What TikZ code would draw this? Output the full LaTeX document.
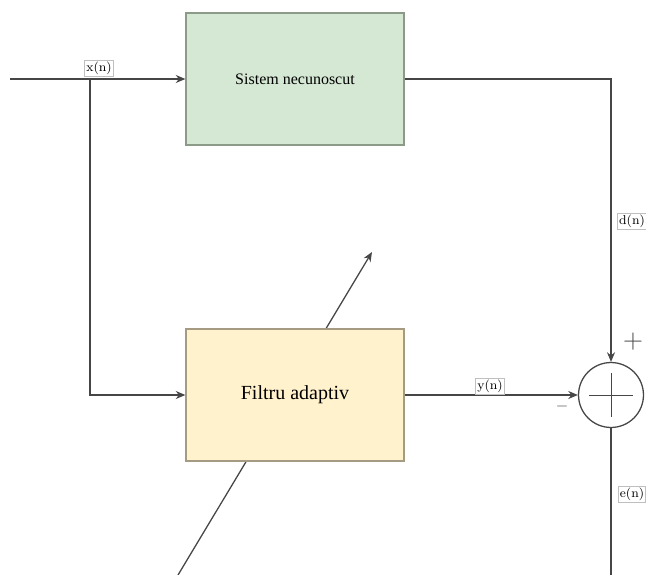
\documentclass[tikz,border=0pt]{standalone}
\usepackage{fontspec}
\newfontfamily\boxfont{Liberation Serif}
\usepackage{xcolor}
\definecolor{blkgreen}{RGB}{213,232,212}
\definecolor{blkyellow}{RGB}{255,242,204}
\definecolor{edgegreen}{RGB}{140,155,135}
\definecolor{edgeyellow}{RGB}{165,155,130}
\definecolor{wiregray}{RGB}{70,70,70}
\usetikzlibrary{arrows.meta, positioning, calc}

\begin{document}
\begin{tikzpicture}[x=0.625pt, y=-0.625pt,
    wire/.style={wiregray, line width=0.8pt},
    arr/.style={wire, -{Stealth[length=6pt, width=5pt]}},
    block/.style={draw, line width=0.8pt, minimum width=136.25pt,
                  minimum height=82.5pt, inner sep=0pt},
    lbl/.style={draw=black!25, fill=white, font=\fontsize{8}{9}\selectfont, inner sep=1pt}]
  \useasboundingbox (0,0) rectangle (646,575);

  % Adaptation arrow (runs behind the filter)
  \coordinate (adjS) at (178,575);
  \coordinate (adjE) at (372,252);
  \draw[arr] (adjS) -- (adjE);

  % Blocks
  \node[block, draw=edgegreen, fill=blkgreen,
        font=\boxfont\fontsize{10}{12}\selectfont] (sys) at (295,79) {Sistem necunoscut};
  \node[block, draw=edgeyellow, fill=blkyellow,
        font=\boxfont\fontsize{12.5}{15}\selectfont] (filt) at (295,395) {Filtru adaptiv};

  % Summing junction
  \node[circle, draw=wiregray, line width=0.8pt, minimum size=40.6pt, inner sep=0pt]
        (sum) at (611,395) {};
  \draw[wiregray, line width=0.5pt] ($(sum.center)+(-22,0)$) -- ($(sum.center)+(22,0)$);
  \draw[wiregray, line width=0.5pt] ($(sum.center)+(0,-22)$) -- ($(sum.center)+(0,22)$);
  \node[wiregray, font=\fontsize{18}{18}\selectfont, inner sep=0pt] (plus) at (633,342) {$+$};
  \node[wiregray, font=\fontsize{10}{10}\selectfont, inner sep=0pt] (minus) at (562,406) {$-$};

  % Signal paths
  \coordinate (in) at (10,79);
  \coordinate (split) at (90,79);
  \coordinate (out) at (611,575);
  \draw[arr] (in) -- (sys.west);
  \draw[arr] (split) |- (filt.west);
  \draw[arr] (sys.east) -| (sum.north);
  \draw[arr] (filt.east) -- (sum.west);
  \draw[wire] (sum.south) -- (out);

  % Signal labels
  \node[lbl] (xlbl) at (99,68) {x(n)};
  \node[lbl] (dlbl) at (632,221) {d(n)};
  \node[lbl] (ylbl) at (490,386) {y(n)};
  \node[lbl] (elbl) at (632,494) {e(n)};
\end{tikzpicture}
\end{document}
